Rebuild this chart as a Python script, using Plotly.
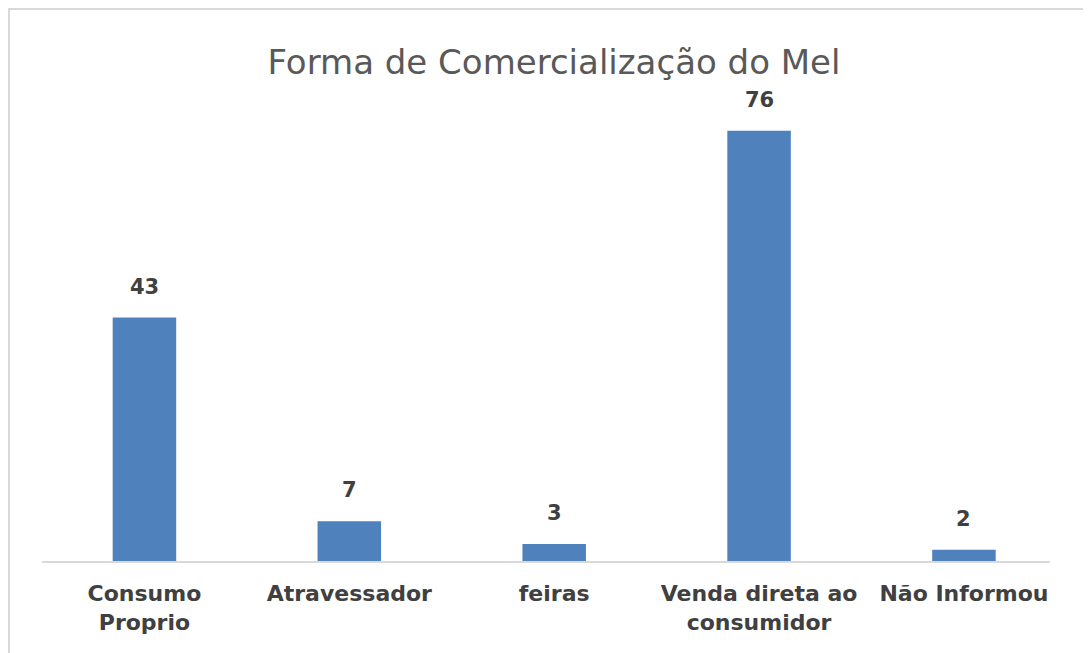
import plotly.graph_objects as go

# dados
categorias = ["Consumo<br>Proprio", "Atravessador", "feiras",
              "Venda direta ao<br>consumidor", "Não Informou"]
valores = [43, 7, 3, 76, 2]
titulo = "Forma de Comercialização do Mel"

AZUL = "#4f81bd"
TEXTO = "#404040"
BORDA = "#d9d9d9"

W, H = 1091, 653
L, R, T, B = 34, 49, 100, 100
pw, ph = W - L - R, H - T - B

fig = go.Figure()

fig.add_trace(go.Bar(
    x=list(range(len(categorias))),
    y=valores,
    width=0.31,
    marker=dict(color=AZUL, line=dict(width=0)),
    hoverinfo="x+y",
))

# rótulos de dados acima das barras
for i, v in enumerate(valores):
    fig.add_annotation(
        x=i, y=v, text=str(v), showarrow=False,
        yanchor="bottom", yshift=17,
        font=dict(family="DejaVu Sans", size=21, color=TEXTO, weight="bold"),
    )

# moldura cinza clara do gráfico
fig.add_shape(
    type="rect", xref="paper", yref="paper",
    x0=(1 - L) / pw, x1=1.3, y0=-0.5, y1=1 + (T - 1) / ph,
    line=dict(color=BORDA, width=2), fillcolor="rgba(0,0,0,0)",
)

fig.update_layout(
    width=W, height=H,
    margin=dict(l=L, r=R, t=T, b=B),
    paper_bgcolor="white",
    plot_bgcolor="white",
    showlegend=False,
    title=dict(
        text=titulo,
        x=546 / W, xanchor="center",
        y=1 - 54 / H, yanchor="middle", yref="container",
        font=dict(family="DejaVu Sans", size=34, color="#595959"),
    ),
    xaxis=dict(
        tickmode="array",
        tickvals=list(range(len(categorias))),
        ticktext=categorias,
        range=[-0.5, 4.42],
        showgrid=False,
        zeroline=False,
        showline=True,
        linecolor=BORDA,
        linewidth=2,
        ticks="",
        ticklabelstandoff=12,
        tickfont=dict(family="DejaVu Sans", size=22, color=TEXTO, weight="bold"),
    ),
    yaxis=dict(
        range=[0, 80],
        visible=False,
        showgrid=False,
        zeroline=False,
    ),
)

fig.write_html("out.html")
